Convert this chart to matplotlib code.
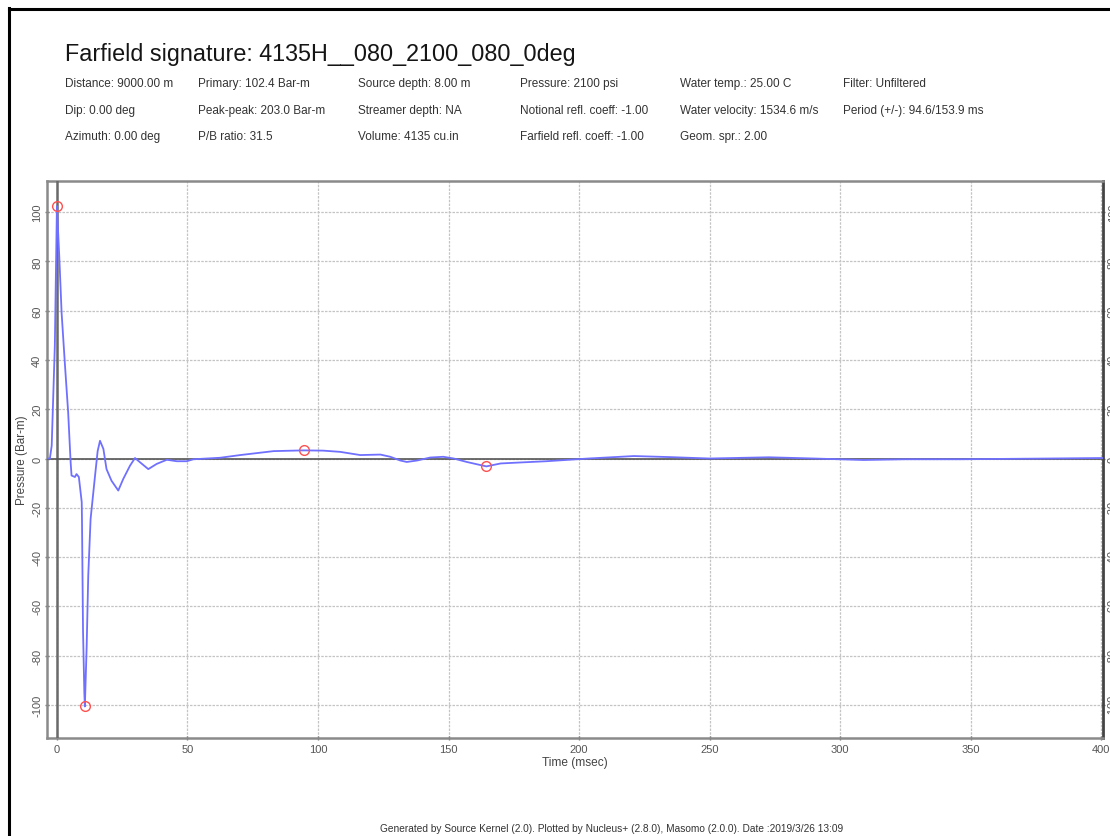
import matplotlib
matplotlib.use("Agg")
import matplotlib.pyplot as plt
from matplotlib.lines import Line2D

plt.rcParams['font.family'] = ['Liberation Sans', 'DejaVu Sans']

# ---- data ----
time_ms = [-3.8, -2.7, -2.0, -0.8, 0.0, 0.9, 1.8, 3.1, 4.3, 5.25, 5.6, 6.9, 7.5, 8.4,
           9.5, 9.6, 10.0, 10.5, 10.7, 11.4, 12.0, 12.9, 14.6, 15.6, 16.5, 17.8, 19.0,
           20.9, 23.5, 25.4, 28.0, 29.9, 31.8, 35.0, 38.2, 42.1, 45.9, 49.7, 52.3,
           62.5, 70.2, 83.0, 94.6, 102.0, 108.5, 116.2, 123.9, 127.7, 131.5, 134.0,
           138.0, 143.0, 148.0, 152.0, 157.0, 164.5, 170.0, 177.6, 187.5, 203.6,
           221.0, 234.0, 250.0, 272.7, 290.0, 309.0, 325.0, 346.0, 380.0, 400.7]
pressure = [0.0, 0.0, 5.2, 45.8, 102.4, 82.0, 59.0, 37.6, 18.8, -1.5, -6.9, -7.5, -6.3, -7.5,
            -17.7, -25.0, -70.0, -95.0, -100.6, -76.0, -47.5, -24.5, -7.0, 3.0, 7.2, 3.9, -4.3,
            -9.0, -13.0, -8.3, -2.9, 0.2, -1.5, -4.3, -2.2, -0.5, -1.1, -1.1, -0.3,
            0.3, 1.4, 3.0, 3.3, 3.2, 2.7, 1.4, 1.6, 0.7, -0.8, -1.4,
            -0.8, 0.4, 0.7, 0.0, -1.4, -3.2, -2.0, -1.6, -1.1, 0.0,
            1.0, 0.6, 0.0, 0.5, 0.0, -0.6, -0.3, -0.3, 0.0, 0.2]

marker_t = [0.0, 10.7, 94.6, 164.5]
marker_p = [102.4, -100.6, 3.3, -3.2]

x_ticks = [0, 50, 100, 150, 200, 250, 300, 350, 400]
y_ticks = [-100, -80, -60, -40, -20, 0, 20, 40, 60, 80, 100]

title = "Farfield signature: 4135H__080_2100_080_0deg"
info_rows = [
    ["Distance: 9000.00 m", "Primary: 102.4 Bar-m", "Source depth: 8.00 m",
     "Pressure: 2100 psi", "Water temp.: 25.00 C", "Filter: Unfiltered"],
    ["Dip: 0.00 deg", "Peak-peak: 203.0 Bar-m", "Streamer depth: NA",
     "Notional refl. coeff: -1.00", "Water velocity: 1534.6 m/s", "Period (+/-): 94.6/153.9 ms"],
    ["Azimuth: 0.00 deg", "P/B ratio: 31.5", "Volume: 4135 cu.in",
     "Farfield refl. coeff: -1.00", "Geom. spr.: 2.00", ""],
]
footer = ("Generated by Source Kernel (2.0). Plotted by Nucleus+ (2.8.0), "
          "Masomo (2.0.0). Date :2019/3/26 13:09")

W, H = 1110, 837
fig = plt.figure(figsize=(W / 100, H / 100), dpi=100)

def fx(px):
    return px / W

def fy(py):
    return 1 - py / H

# outer black frame (left and top only visible)
fig.add_artist(Line2D([fx(9), fx(9)], [fy(9), 0], transform=fig.transFigure,
                      color='black', lw=2.2))
fig.add_artist(Line2D([fx(9), 1.0], [fy(10), fy(10)], transform=fig.transFigure,
                      color='black', lw=2.2))

ax = fig.add_axes([fx(47), fy(739), fx(1103) - fx(47), fy(182) - fy(739)])

ax.plot(time_ms, pressure, color='#7070ff', lw=1.3, zorder=4)
ax.plot(marker_t, marker_p, ls='none', marker='o', ms=7, mfc='none',
        mec='#ff5050', mew=1.0, zorder=5)

ax.axvline(0, color='#6a6a6a', lw=1.8, zorder=3)
ax.axhline(0, color='#555555', lw=1.2, zorder=3)

ax.set_xlim(-3.8, 400.7)
ax.set_ylim(-113.4, 112.6)
ax.set_xticks(x_ticks)
ax.set_yticks(y_ticks)
ax.set_xticklabels([str(v) for v in x_ticks])
ax.set_yticklabels([str(v) for v in y_ticks])

ax.grid(True, color='#c4c4c4', lw=0.9, ls=(0, (2, 1)))
ax.tick_params(axis='both', length=3, width=1, color='#777777', labelcolor='#555555',
               labelsize=8.0, direction='inout')
ax.tick_params(axis='y', labelrotation=90, right=True, labelright=True, pad=2)
for lab in ax.get_yticklabels():
    lab.set_va('center')
ax.tick_params(axis='x', pad=3)

for side in ['left', 'top', 'bottom']:
    ax.spines[side].set_color('#8a8a8a')
    ax.spines[side].set_linewidth(1.8)
ax.spines['right'].set_color('#444444')
ax.spines['right'].set_linewidth(2.0)

ax.set_xlabel("Time (msec)", fontsize=8.6, color='#444444', labelpad=1)
ax.set_ylabel("Pressure (Bar-m)", fontsize=8.4, color='#444444', labelpad=3)

fig.text(fx(65), fy(55), title, fontsize=16.8, color='#151515', va='center', ha='left')
col_x = [65, 198, 358, 520, 680, 843]
row_y = [84, 111, 137]
for r, row in enumerate(info_rows):
    for c, txt in enumerate(row):
        if txt:
            fig.text(fx(col_x[c]), fy(row_y[r]), txt, fontsize=8.5, color='#333333',
                     va='center', ha='left')

fig.text(fx(612), fy(829), footer, fontsize=7.3, color='#333333', va='center', ha='center')

fig.savefig("out.png", dpi=100)
